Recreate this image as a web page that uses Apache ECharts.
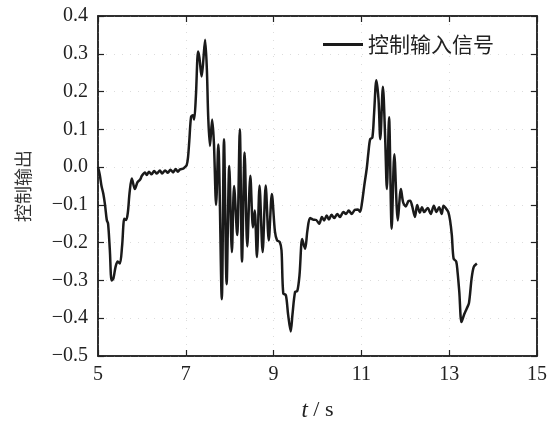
<!DOCTYPE html>
<html><head><meta charset="utf-8">
<script src="https://cdn.jsdelivr.net/npm/echarts@6/dist/echarts.min.js"></script>
<style>html,body{margin:0;padding:0;background:#fff}#c{width:555px;height:428px}</style>
</head><body><div id="c"></div>
<script>
const seriesName = '控制输入信号';
const yAxisName = '控制输出';
const xTicks = [5, 7, 9, 11, 13, 15];
const yTicks = [-0.5, -0.4, -0.3, -0.2, -0.1, 0.0, 0.1, 0.2, 0.3, 0.4];
const tValues = [
 5.00,5.04,5.08,5.12,5.16,5.20,5.23,5.27,5.31,5.35,5.40,5.45,5.50,5.55,5.60,5.64,5.68,5.72,5.77,5.84,
 5.90,5.96,6.00,6.07,6.11,6.16,6.22,6.28,6.34,6.41,6.46,6.53,6.59,6.65,6.71,6.77,6.82,6.87,6.94,6.98,
 7.02,7.05,7.08,7.12,7.16,7.19,7.23,7.28,7.31,7.36,7.39,7.44,7.48,7.51,7.55,7.60,7.64,7.69,7.74,7.82,
 7.87,7.93,7.99,8.05,8.10,8.17,8.23,8.28,8.34,8.40,8.47,8.53,8.57,8.62,8.68,8.75,8.82,8.89,8.96,9.03,
 9.08,9.14,9.18,9.22,9.28,9.33,9.39,9.43,9.49,9.54,9.59,9.65,9.69,9.72,9.77,9.83,9.90,9.97,10.04,10.10,
 10.15,10.21,10.26,10.32,10.38,10.45,10.51,10.59,10.65,10.71,10.78,10.85,10.92,10.97,11.01,11.07,11.12,11.16,11.20,11.25,
 11.29,11.34,11.39,11.43,11.49,11.54,11.58,11.63,11.69,11.75,11.83,11.90,11.95,12.01,12.07,12.11,12.15,12.22,12.27,12.33,
 12.38,12.43,12.51,12.58,12.65,12.71,12.77,12.83,12.87,12.93,12.98,13.02,13.06,13.10,13.16,13.19,13.23,13.28,13.34,13.40,
 13.45,13.51,13.56,13.63
];
const uValues = [
 0.000,-0.020,-0.050,-0.070,-0.100,-0.140,-0.150,-0.220,-0.300,-0.295,-0.264,-0.250,-0.255,-0.207,-0.137,-0.140,-0.120,-0.067,-0.030,-0.058,
 -0.040,-0.033,-0.023,-0.014,-0.021,-0.012,-0.019,-0.010,-0.017,-0.009,-0.017,-0.009,-0.015,-0.007,-0.014,-0.005,-0.012,-0.006,-0.004,0.000,
 0.005,0.025,0.070,0.133,0.137,0.126,0.188,0.306,0.290,0.240,0.270,0.337,0.258,0.135,0.056,0.126,0.065,-0.100,0.060,-0.350,
 0.074,-0.310,0.003,-0.225,-0.050,-0.180,0.100,-0.250,0.039,-0.210,-0.023,-0.160,-0.115,-0.238,-0.049,-0.225,-0.049,-0.194,-0.071,-0.170,
 -0.194,-0.198,-0.220,-0.334,-0.339,-0.390,-0.435,-0.390,-0.330,-0.328,-0.286,-0.190,-0.207,-0.216,-0.168,-0.135,-0.139,-0.140,-0.150,-0.132,
 -0.141,-0.128,-0.139,-0.126,-0.135,-0.124,-0.132,-0.119,-0.124,-0.115,-0.124,-0.113,-0.112,-0.118,-0.097,-0.045,-0.005,0.039,0.074,0.078,
 0.144,0.230,0.179,0.074,0.213,0.082,-0.058,0.132,-0.163,0.034,-0.141,-0.058,-0.093,-0.104,-0.090,-0.089,-0.100,-0.132,-0.100,-0.121,
 -0.106,-0.119,-0.108,-0.124,-0.102,-0.119,-0.106,-0.124,-0.102,-0.110,-0.119,-0.141,-0.180,-0.242,-0.250,-0.277,-0.330,-0.410,-0.390,-0.374,
 -0.360,-0.295,-0.264,-0.255
];
const data = tValues.map((t, i) => [t, uValues[i]]);
const fmtY = v => (v < 0 ? '\u2212' + Math.abs(v).toFixed(1) : v.toFixed(1));
const serif = 'Liberation Serif';
const axisLineStyle = { color: '#222', width: 1.5 };
const tickCommon = { show: true, inside: true, length: 6, lineStyle: { color: '#222', width: 1.2 } };
const chart = echarts.init(document.getElementById('c'), null, { renderer: 'canvas' });
chart.setOption({
  animation: false,
  backgroundColor: '#fff',
  grid: { left: 98, right: 18, top: 16, bottom: 72, show: true, borderColor: '#222', borderWidth: 1.5, backgroundColor: 'rgba(0,0,0,0)' },
  legend: {
    data: [seriesName], left: 318, top: 29, icon: 'rect', itemWidth: 40, itemHeight: 3,
    textStyle: { fontFamily: 'Noto Sans CJK SC', fontSize: 21, color: '#222' }
  },
  xAxis: [{
    type: 'value', position: 'bottom', min: xTicks[0], max: xTicks[xTicks.length - 1], interval: 2,
    axisLine: { show: true, onZero: false, lineStyle: axisLineStyle }, axisTick: tickCommon,
    axisLabel: { fontFamily: serif, fontSize: 20, color: '#222', margin: 9 },
    splitLine: { show: true, lineStyle: { color: '#dcdcdc', type: [1, 7] } },
    name: '{i|t} / s', nameLocation: 'middle', nameGap: 43,
    nameTextStyle: { fontFamily: serif, fontSize: 22, color: '#222',
      rich: { i: { fontFamily: serif, fontStyle: 'italic', fontSize: 23, color: '#222' } } }
  }, {
    type: 'value', position: 'top', min: xTicks[0], max: xTicks[xTicks.length - 1], interval: 2,
    axisLine: { show: true, onZero: false, lineStyle: axisLineStyle }, axisTick: tickCommon,
    axisLabel: { show: false }, splitLine: { show: false }
  }],
  yAxis: [{
    type: 'value', position: 'left', min: yTicks[0], max: yTicks[yTicks.length - 1], interval: 0.1,
    axisLine: { show: true, onZero: false, lineStyle: axisLineStyle }, axisTick: tickCommon,
    axisLabel: { fontFamily: serif, fontSize: 20, color: '#222', margin: 10, formatter: fmtY },
    splitLine: { show: true, lineStyle: { color: '#dcdcdc', type: [1, 7] } },
    name: yAxisName, nameLocation: 'middle', nameGap: 66, nameRotate: 90,
    nameTextStyle: { fontFamily: 'Noto Sans CJK SC', fontSize: 18, color: '#333' }
  }, {
    type: 'value', position: 'right', min: yTicks[0], max: yTicks[yTicks.length - 1], interval: 0.1,
    axisLine: { show: true, onZero: false, lineStyle: axisLineStyle }, axisTick: tickCommon,
    axisLabel: { show: false }, splitLine: { show: false }
  }],
  series: [{
    name: seriesName, type: 'line', data: data, showSymbol: false, smooth: 0.3,
    lineStyle: { color: '#1a1a1a', width: 2.5 }, itemStyle: { color: '#1a1a1a' }
  }, {
    name: 'frame', type: 'line', xAxisIndex: 1, yAxisIndex: 1, data: [], showSymbol: false, silent: true
  }]
});
</script></body></html>
